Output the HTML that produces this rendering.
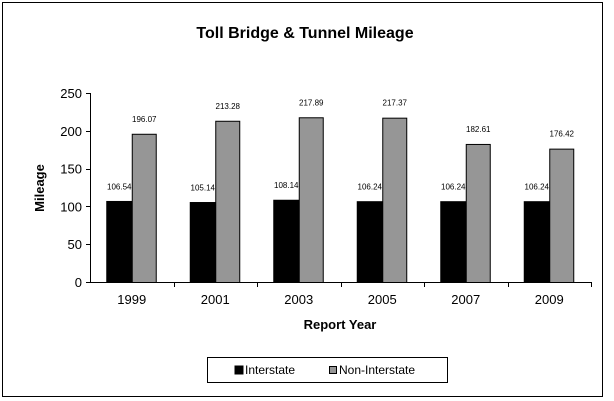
<!DOCTYPE html>
<html><head><meta charset="utf-8"><style>
body{margin:0;background:#fff;font-family:"Liberation Sans",Arial,sans-serif}
svg{display:block}
</style></head><body>
<svg width="614" height="401" viewBox="0 0 614 401" id="c">
<rect x="2.5" y="2.5" width="600" height="394" fill="#fff" stroke="#000" stroke-width="1"/>
<text x="305" y="38" text-anchor="middle" font-size="16" font-weight="bold">Toll Bridge &amp; Tunnel Mileage</text>
<text transform="translate(44,188) rotate(-90)" text-anchor="middle" font-size="13" font-weight="bold">Mileage</text>
<text x="340" y="329" text-anchor="middle" font-size="13" font-weight="bold">Report Year</text>
<g id="plot"></g>
<rect x="207.5" y="357.5" width="240" height="25" fill="#fff" stroke="#000"/>
<g>
<rect x="235" y="366" width="8" height="8" fill="#000" stroke="#000"/>
<text x="245" y="374" font-size="12">Interstate</text></g>
<g>
<rect x="329.5" y="366.5" width="7" height="7" fill="#969696" stroke="#000"/>
<text x="339" y="374" font-size="12">Non-Interstate</text></g>
</svg>
<script>
const categories=["1999","2001","2003","2005","2007","2009"];
const interstate=[106.54,105.14,108.14,106.24,106.24,106.24];
const nonInterstate=[196.07,213.28,217.89,217.37,182.61,176.42];
const yTicks=[0,50,100,150,200,250];
const NS="http://www.w3.org/2000/svg";
const g=document.getElementById('plot');
const x0=90,x1=591,y0=282,y1=93,ymax=250;
const band=(x1-x0)/categories.length;
const y=v=>y0-(v/ymax)*(y0-y1);
function mk(t,a){const e=document.createElementNS(NS,t);for(const k in a)e.setAttribute(k,a[k]);g.appendChild(e);return e;}
let e=mk('line',{x1:x0+.5,y1:y1,x2:x0+.5,y2:y0,stroke:'#000'});


e=mk('line',{x1:x0,y1:y0+.5,x2:x1,y2:y0+.5,stroke:'#000'});


yTicks.forEach(v=>{
 let t=mk('line',{x1:x0-4,x2:x0,y1:Math.round(y(v))+.5,y2:Math.round(y(v))+.5,stroke:'#000'});
 
 
 let l=mk('text',{x:x0-8,y:y(v)+5,'text-anchor':'end','font-size':13});l.textContent=v;
 
 
});
categories.forEach((c,i)=>{
 const gx=x0+band*i;
 let t=mk('line',{x1:Math.round(gx+band)+.5,x2:Math.round(gx+band)+.5,y1:y0,y2:y0+5,stroke:'#000'});
 
 
 let l=mk('text',{x:gx+band/2,y:y0+22,'text-anchor':'middle','font-size':13});l.textContent=c;
 
 
 const bw=25,bx=gx+band/2-bw;
 let b=mk('rect',{x:bx,y:y(interstate[i]),width:bw,height:y0-y(interstate[i]),fill:'#000',stroke:'#000'});
 
 
 let b2=mk('rect',{x:bx+bw+.5,y:y(nonInterstate[i])+.5,width:bw-1,height:y0-y(nonInterstate[i]),fill:'#969696',stroke:'#000'});
 
 
 let v1=mk('text',{x:bx+bw/2,y:y(interstate[i])-12,'text-anchor':'middle','font-size':8});v1.textContent=interstate[i].toFixed(2);
 
 
 let v2=mk('text',{x:bx+bw*1.5,y:y(nonInterstate[i])-12,'text-anchor':'middle','font-size':8});v2.textContent=nonInterstate[i].toFixed(2);
 
 
});
</script>
</body></html>
